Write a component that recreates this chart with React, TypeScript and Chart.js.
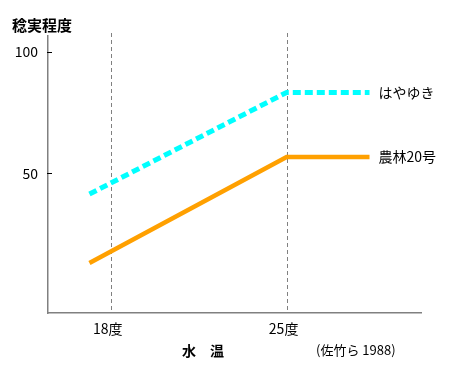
import React, { useEffect, useRef } from "react";
import { Chart, registerables } from "chart.js";

Chart.register(...registerables);

const temps = [17.15, 25, 28.3];
const hayayuki = [41.5, 83.3, 83.3];
const norin20 = [13.2, 56.7, 56.7];
const xTicks = [18, 25];
const yTicks = [50, 100];
const seriesNames = ["はやゆき", "農林20号"];

export default function App() {
  const ref = useRef<HTMLCanvasElement | null>(null);
  useEffect(() => {
    document.body.style.margin = "0";
    const canvas = ref.current!;
    const font = "'Noto Sans CJK JP', 'Noto Sans', sans-serif";
    const labelsPlugin = {
      id: "labels",
      afterDraw(chart: any) {
        const ctx = chart.ctx;
        const xs = chart.scales.x;
        const ys = chart.scales.y;
        ctx.save();
        ctx.strokeStyle = "#000";
        ctx.lineWidth = 1;
        yTicks.forEach((v) => {
          const y = Math.round(ys.getPixelForValue(v)) + 0.5;
          ctx.beginPath();
          ctx.moveTo(xs.left - 1, y);
          ctx.lineTo(xs.left + 4, y);
          ctx.stroke();
        });
        ctx.fillStyle = "#000";
        ctx.textBaseline = "middle";
        ctx.textAlign = "left";
        ctx.font = `bold 15px ${font}`;
        ctx.fillText("稔実程度", 12, 25);
        ctx.font = `bold 14px ${font}`;
        ctx.textAlign = "center";
        ctx.fillText("水　温", 203, 351);
        ctx.font = `13px ${font}`;
        ctx.textAlign = "left";
        ctx.fillText("(佐竹ら 1988)", 316, 350);
        ctx.font = `14px ${font}`;
        const sets = [hayayuki, norin20];
        sets.forEach((d, i) => {
          const last = d.length - 1;
          const px = xs.getPixelForValue(temps[last]) + 9;
          const py = ys.getPixelForValue(d[last]);
          ctx.fillText(seriesNames[i], px, py);
        });
        ctx.restore();
      },
    };
    const chart = new Chart(canvas, {
      type: "line",
      data: {
        datasets: [
          {
            label: seriesNames[0],
            data: temps.map((t, i) => ({ x: t, y: hayayuki[i] })),
            borderColor: "#00FFFF",
            borderWidth: 5,
            borderDash: [8, 4],
            pointRadius: 0,
            tension: 0,
          },
          {
            label: seriesNames[1],
            data: temps.map((t, i) => ({ x: t, y: norin20[i] })),
            borderColor: "#FFA000",
            borderWidth: 4.5,
            pointRadius: 0,
            tension: 0,
          },
        ],
      },
      options: {
        animation: false,
        responsive: false,
        layout: { padding: { top: 36, right: 34, left: 0, bottom: 0 } },
        plugins: { legend: { display: false }, tooltip: { enabled: false } },
        scales: {
          x: {
            type: "linear",
            min: 15.5,
            max: 30.35,
            afterBuildTicks: (s: any) => {
              s.ticks = xTicks.map((v) => ({ value: v }));
            },
            afterFit: (s: any) => {
              s.height = 63;
            },
            ticks: {
              color: "#000",
              font: { size: 14, family: font },
              padding: 7,
              labelOffset: -3,
              callback: (v: any) => `${v}度`,
            },
            grid: { display: false, drawTicks: false },
            border: { display: true, color: "#808080", width: 1.5 },
          },
          y: {
            min: -7.4,
            max: 106.5,
            afterBuildTicks: (s: any) => {
              s.ticks = yTicks.map((v) => ({ value: v }));
            },
            afterFit: (s: any) => {
              s.width = 48;
            },
            ticks: {
              color: "#000",
              font: { size: 14, family: font },
              padding: 10,
            },
            grid: { display: false, drawTicks: false },
            border: { display: true, color: "#808080", width: 1.5 },
          },
        },
      },
      plugins: [
        {
          id: "xdash",
          beforeDatasetsDraw(chart: any) {
            const ctx = chart.ctx;
            const xs = chart.scales.x;
            const ys = chart.scales.y;
            ctx.save();
            ctx.strokeStyle = "#808080";
            ctx.lineWidth = 1;
            ctx.setLineDash([4, 3]);
            xTicks.forEach((v) => {
              const x = Math.round(xs.getPixelForValue(v)) + 0.5;
              ctx.beginPath();
              ctx.moveTo(x, ys.top - 3);
              ctx.lineTo(x, ys.bottom);
              ctx.stroke();
            });
            ctx.restore();
          },
        },
        labelsPlugin,
      ],
    } as any);
    return () => chart.destroy();
  }, []);
  return <canvas ref={ref} width={455} height={376} style={{ display: "block" }} />;
}
